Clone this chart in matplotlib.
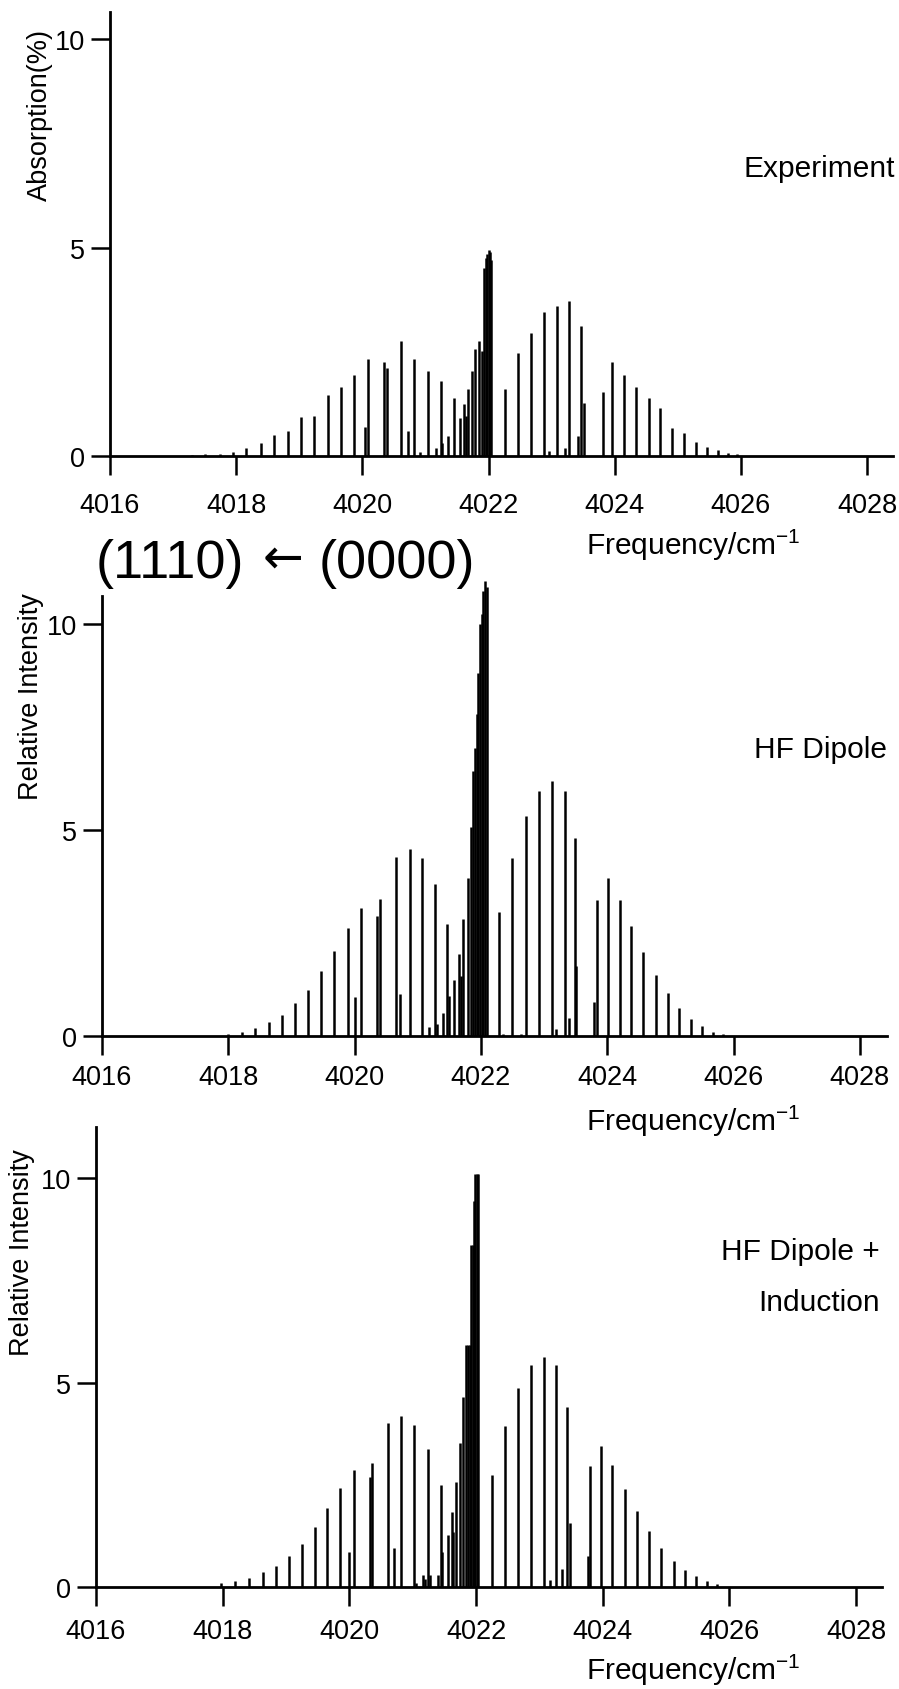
import matplotlib
matplotlib.use("Agg")
import matplotlib.pyplot as plt

plt.rcParams["font.family"] = ["Liberation Sans", "DejaVu Sans"]
plt.rcParams["mathtext.default"] = "regular"

# ---- data (frequency in cm-1, intensity) ----
exp_freq = [4017.30, 4017.50, 4017.75, 4017.95, 4018.16, 4018.39, 4018.60, 4018.82,
            4019.03, 4019.23, 4019.46, 4019.66, 4019.86, 4020.04, 4020.09, 4020.34,
            4020.39, 4020.62, 4020.73, 4020.82, 4020.91, 4021.04, 4021.16, 4021.24,
            4021.26, 4021.36, 4021.45, 4021.54, 4021.61, 4021.64, 4021.68, 4021.74,
            4021.79, 4021.85, 4021.89, 4021.93, 4021.96, 4021.98, 4022.00, 4022.02,
            4022.04, 4022.26, 4022.47, 4022.67, 4022.88, 4022.96, 4023.08, 4023.21,
            4023.28, 4023.41, 4023.46, 4023.51, 4023.81, 4023.96, 4024.14, 4024.34,
            4024.54, 4024.72, 4024.91, 4025.10, 4025.28, 4025.46, 4025.63, 4025.80,
            4025.94]
exp_int = [0.03, 0.04, 0.05, 0.10, 0.20, 0.30, 0.50, 0.60,
           0.93, 0.97, 1.46, 1.65, 1.94, 0.70, 2.32, 2.25,
           2.10, 2.75, 0.60, 2.32, 0.10, 2.03, 0.20, 1.79,
           0.30, 0.48, 1.38, 0.91, 1.24, 0.95, 1.60, 2.05,
           2.57, 2.77, 2.53, 4.50, 4.75, 4.85, 4.93, 4.90,
           4.70, 1.60, 2.48, 2.94, 3.46, 0.12, 3.60, 0.20,
           3.72, 0.49, 3.12, 1.26, 1.53, 2.25, 1.94, 1.65,
           1.39, 1.15, 0.67, 0.55, 0.34, 0.22, 0.15, 0.07,
           0.04]

dip_freq = [4018.00, 4018.21, 4018.43, 4018.65, 4018.85, 4019.05, 4019.26, 4019.47,
            4019.67, 4019.89, 4020.01, 4020.10, 4020.36, 4020.40, 4020.65, 4020.72,
            4020.87, 4021.07, 4021.17, 4021.27, 4021.31, 4021.40, 4021.47, 4021.50,
            4021.57, 4021.65, 4021.69, 4021.72, 4021.79, 4021.84, 4021.88, 4021.91,
            4021.94, 4021.96, 4021.98, 4022.01, 4022.04, 4022.07, 4022.10, 4022.29,
            4022.35, 4022.50, 4022.64, 4022.72, 4022.92, 4023.13, 4023.19, 4023.33,
            4023.39, 4023.49, 4023.51, 4023.79, 4023.84, 4024.01, 4024.20, 4024.38,
            4024.57, 4024.77, 4024.96, 4025.14, 4025.32, 4025.50, 4025.68, 4025.84]
dip_int = [0.05, 0.10, 0.20, 0.33, 0.52, 0.79, 1.12, 1.57,
           2.07, 2.62, 0.94, 3.10, 2.92, 3.33, 4.34, 1.01,
           4.54, 4.32, 0.22, 3.69, 0.30, 0.55, 2.72, 0.97,
           1.36, 2.00, 1.45, 2.83, 3.84, 5.07, 6.44, 7.00,
           7.82, 8.80, 10.00, 10.24, 10.80, 11.05, 10.90, 3.00,
           0.05, 4.31, 0.05, 5.33, 5.95, 6.18, 0.17, 5.95,
           0.43, 4.80, 1.69, 0.82, 3.31, 3.83, 3.31, 2.68,
           2.03, 1.49, 1.04, 0.68, 0.41, 0.25, 0.10, 0.05]

ind_freq = [4017.98, 4018.19, 4018.42, 4018.63, 4018.84, 4019.04, 4019.25, 4019.45,
            4019.65, 4019.85, 4019.99, 4020.07, 4020.33, 4020.36, 4020.61, 4020.70,
            4020.82, 4021.02, 4021.06, 4021.16, 4021.19, 4021.24, 4021.28, 4021.40,
            4021.45, 4021.47, 4021.55, 4021.62, 4021.64, 4021.68, 4021.75, 4021.79,
            4021.84, 4021.87, 4021.90, 4021.92, 4021.95, 4021.97, 4021.99, 4022.01,
            4022.03, 4022.26, 4022.46, 4022.67, 4022.87, 4023.07, 4023.17, 4023.27,
            4023.36, 4023.44, 4023.48, 4023.77, 4023.80, 4023.97, 4024.15, 4024.35,
            4024.54, 4024.73, 4024.92, 4025.12, 4025.30, 4025.47, 4025.64, 4025.81]
ind_int = [0.09, 0.15, 0.22, 0.36, 0.51, 0.75, 1.05, 1.46,
           1.93, 2.42, 0.85, 2.87, 2.69, 3.04, 4.00, 0.96,
           4.17, 3.97, 0.10, 0.29, 0.20, 3.38, 0.30, 0.30,
           2.50, 0.85, 1.26, 1.83, 1.35, 2.58, 3.53, 4.65,
           5.91, 5.91, 5.91, 8.37, 8.37, 9.43, 10.10, 10.10,
           10.10, 2.75, 3.94, 4.87, 5.44, 5.63, 0.18, 5.42,
           0.44, 4.40, 1.57, 0.75, 2.97, 3.45, 2.99, 2.40,
           1.85, 1.36, 0.96, 0.64, 0.42, 0.26, 0.15, 0.07]

x_ticks = [4016, 4018, 4020, 4022, 4024, 4026, 4028]
y_ticks = [0, 5, 10]

W, H = 899, 1690

# panel boxes in pixels: left, right, top, bottom ; and the axis limits
panels = [
    dict(box=(110, 893, 13, 457), xlim=(4016, 4028.41), ylim=(0, 10.65),
         freq=exp_freq, inten=exp_int, pad=12),
    dict(box=(102, 887, 597, 1037), xlim=(4016, 4028.43), ylim=(0, 10.68),
         freq=dip_freq, inten=dip_int, pad=6),
    dict(box=(96, 882, 1128, 1588), xlim=(4016, 4028.41), ylim=(0, 11.25),
         freq=ind_freq, inten=ind_int, pad=8),
]

fig = plt.figure(figsize=(W / 100, H / 100), dpi=100)

for p in panels:
    l, r, t, b = p["box"]
    ax = fig.add_axes([l / W, 1 - b / H, (r - l) / W, (b - t) / H])
    ax.vlines(p["freq"], 0, p["inten"], color="black", lw=1.8, clip_on=False)
    ax.set_xlim(*p["xlim"])
    ax.set_ylim(*p["ylim"])
    ax.set_xticks(x_ticks)
    ax.set_yticks(y_ticks)
    for s in ("top", "right"):
        ax.spines[s].set_visible(False)
    for s in ("left", "bottom"):
        ax.spines[s].set_linewidth(2.0)
    ax.tick_params(direction="out", length=14, width=1.8, labelsize=19.5)
    ax.tick_params(axis="x", pad=p["pad"])
    ax.tick_params(axis="y", pad=4)
    ax.patch.set_alpha(0)


def ftext(x, y, s, **kw):
    fig.text(x / W, 1 - y / H, s, **kw)


ftext(895, 177, "Experiment", ha="right", va="baseline", fontsize=21.5)
ftext(887, 758, "HF Dipole", ha="right", va="baseline", fontsize=21.5)
ftext(880, 1260, "HF Dipole +", ha="right", va="baseline", fontsize=21.5)
ftext(880, 1311, "Induction", ha="right", va="baseline", fontsize=21.5)

for y in (545, 1121, 1670):
    ftext(693, y, "Frequency/cm$^{-1}$", ha="center", va="center", fontsize=21.5)

ftext(40, 115, "Absorption(%)", rotation=90, ha="center", va="center", fontsize=19.5)
ftext(31, 697, "Relative Intensity", rotation=90, ha="center", va="center", fontsize=19.5)
ftext(22, 1253, "Relative Intensity", rotation=90, ha="center", va="center", fontsize=19.5)

# transition label, the arrow drawn in DejaVu Sans for its longer shaft
ftext(96, 578, "(1110)", ha="left", va="baseline", fontsize=39)
ftext(283, 573, "\u2190", ha="center", va="baseline", fontsize=35,
      family="DejaVu Sans")
ftext(475, 578, "(0000)", ha="right", va="baseline", fontsize=39)

fig.savefig("out.png", dpi=100, facecolor="white")
